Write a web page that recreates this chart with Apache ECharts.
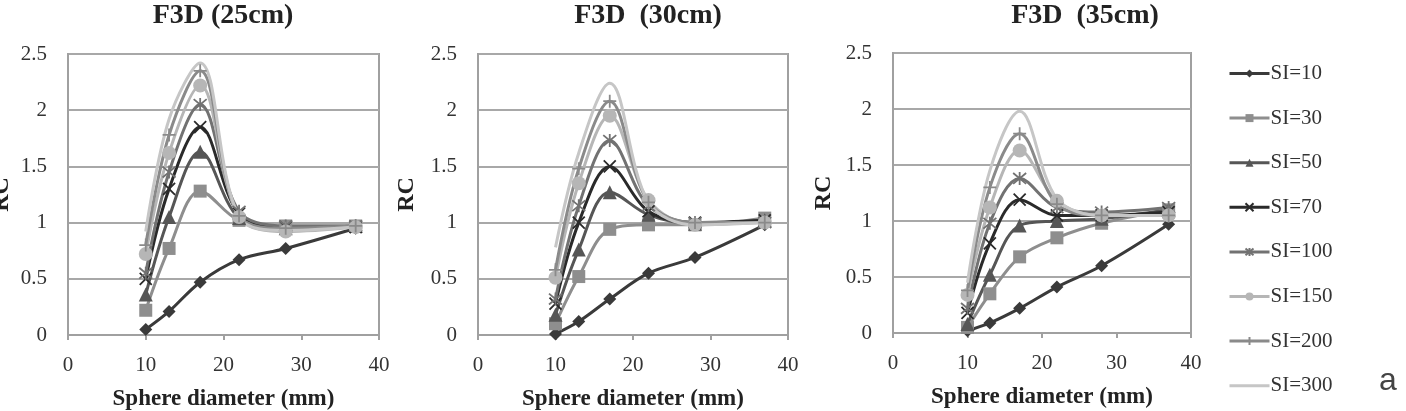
<!DOCTYPE html>
<html>
<head>
<meta charset="utf-8">
<script src="https://cdn.jsdelivr.net/npm/echarts@6/dist/echarts.min.js"></script>
<style>
  html, body { margin: 0; padding: 0; background: #fff; }
  #main { width: 1406px; height: 411px; }
</style>
</head>
<body>
<div id="main"></div>
<script>
// sphere diameters (mm)
const diameters = [10, 13, 17, 22, 28, 37];
const siNames = ['SI=10', 'SI=30', 'SI=50', 'SI=70', 'SI=100', 'SI=150', 'SI=200', 'SI=300'];
const panelTitles = ['F3D (25cm)', 'F3D  (30cm)', 'F3D  (35cm)'];
const xTicks = [0, 10, 20, 30, 40];
const yTicks = [0, 0.5, 1, 1.5, 2, 2.5];

// RC values, one row per SI
const rc25 = [
  [0.05, 0.21, 0.47, 0.67, 0.77, 0.95],
  [0.22, 0.77, 1.28, 1.02, 0.97, 0.97],
  [0.36, 1.05, 1.63, 1.04, 0.95, 0.97],
  [0.50, 1.30, 1.85, 1.08, 0.96, 0.96],
  [0.55, 1.45, 2.05, 1.10, 0.97, 0.97],
  [0.72, 1.62, 2.22, 1.05, 0.92, 0.96],
  [0.80, 1.78, 2.35, 1.06, 0.95, 0.97],
  [0.92, 1.92, 2.42, 1.05, 0.93, 0.96]
];
const rc30 = [
  [0.01, 0.12, 0.32, 0.55, 0.69, 0.98],
  [0.10, 0.52, 0.94, 0.98, 0.98, 1.04],
  [0.18, 0.76, 1.27, 1.07, 0.99, 1.02],
  [0.28, 1.00, 1.50, 1.10, 1.00, 1.02],
  [0.32, 1.15, 1.73, 1.15, 1.00, 1.00],
  [0.51, 1.35, 1.95, 1.20, 0.98, 1.00],
  [0.58, 1.48, 2.08, 1.18, 1.00, 1.00],
  [0.78, 1.62, 2.24, 1.18, 0.98, 1.00]
];
const rc35 = [
  [0.02, 0.09, 0.22, 0.41, 0.60, 0.97],
  [0.05, 0.35, 0.68, 0.85, 0.98, 1.10],
  [0.08, 0.52, 0.96, 1.00, 1.02, 1.10],
  [0.18, 0.80, 1.19, 1.05, 1.05, 1.08],
  [0.22, 0.98, 1.38, 1.12, 1.08, 1.12],
  [0.34, 1.12, 1.63, 1.18, 1.05, 1.05],
  [0.38, 1.30, 1.78, 1.15, 1.05, 1.05],
  [0.45, 1.45, 1.98, 1.20, 1.05, 1.05]
];

// 线条颜色 / 标记
const lineColors = ['#3a3a3a', '#8e8e8e', '#565656', '#2a2a2a', '#727272', '#b6b6b6', '#8a8a8a', '#c6c6c6'];
const symbols = [
  'diamond', 'rect', 'triangle',
  'path://M0,0L10,10M10,0L0,10',
  'path://M0,0L10,10M10,0L0,10M5,-1L5,11',
  'circle',
  'path://M5,0L5,10M0,5L10,5',
  'none'
];
const symbolSizes = [13, 13, 14, 12, 13, 14, 13, 0];

const serif = '"Liberation Serif", "Times New Roman", serif';
const panels = [rc25, rc30, rc35];
const grids = [
  {left: 68, top: 54, width: 311, height: 281},
  {left: 478, top: 54, width: 310, height: 281},
  {left: 893, top: 53, width: 298, height: 280}
];
const nameGaps = [54, 59, 57];
const titleCenters = [218, 643, 1080];

const myChart = echarts.init(document.getElementById('main'));

let series = [];
panels.forEach(function (rows, p) {
  rows.forEach(function (vals, i) {
    const pathSym = symbols[i].indexOf('path://') === 0;
    series.push({
      name: siNames[i],
      type: 'line',
      xAxisIndex: p,
      yAxisIndex: p,
      smooth: 0.35,
      data: diameters.map(function (d, k) { return [d, vals[k]]; }),
      symbol: symbols[i],
      symbolSize: symbolSizes[i],
      showSymbol: symbols[i] !== 'none',
      lineStyle: {color: lineColors[i], width: 3},
      itemStyle: {
        color: lineColors[i],
        borderColor: lineColors[i],
        borderWidth: pathSym ? 1.8 : 0
      },
      emphasis: {disabled: true}
    });
  });
});

// 图例：SI=300 只有线
const legendData = siNames.map(function (n, i) {
  if (symbols[i] === 'none') {
    return {name: n, itemStyle: {opacity: 0}};
  }
  return {name: n};
});

myChart.setOption({
  animation: false,
  backgroundColor: '#fff',
  title: panelTitles.map(function (t, p) {
    return {
      text: t,
      left: titleCenters[p],
      top: -3,
      textAlign: 'center',
      textStyle: {fontFamily: serif, fontWeight: 'bold', fontSize: 28, color: '#222'}
    };
  }).concat([{
    text: 'a',
    left: 1383,
    top: 360,
    textAlign: 'center',
    textStyle: {fontFamily: '"Liberation Sans", Arial, sans-serif', fontWeight: 'normal', fontSize: 32, color: '#444'}
  }]),
  legend: {
    orient: 'vertical',
    left: 1223,
    top: 58,
    itemWidth: 40,
    itemHeight: 10,
    itemGap: 23.6,
    data: legendData,
    lineStyle: {width: 3},
    textStyle: {fontFamily: serif, fontSize: 21, color: '#333', lineHeight: 20, padding: [0, 0, 0, -4]}
  },
  grid: grids.map(function (g) {
    return Object.assign({
      show: true,
      borderColor: '#a0a0a0',
      borderWidth: 2,
      backgroundColor: '#fff',
      containLabel: false,
      outerBoundsMode: 'none'
    }, g);
  }),
  xAxis: grids.map(function (g, p) {
    return {
      gridIndex: p,
      type: 'value',
      min: xTicks[0],
      max: xTicks[xTicks.length - 1],
      interval: 10,
      name: 'Sphere diameter (mm)',
      nameLocation: 'middle',
      nameGap: 53,
      nameTextStyle: {fontFamily: serif, fontWeight: 'bold', fontSize: 23, color: '#222'},
      axisLine: {lineStyle: {color: '#a0a0a0', width: 2}},
      axisTick: {show: true, length: 5, lineStyle: {color: '#a0a0a0', width: 2}},
      axisLabel: {fontFamily: serif, fontSize: 21, color: '#333', margin: 20},
      splitLine: {show: false}
    };
  }),
  yAxis: grids.map(function (g, p) {
    return {
      gridIndex: p,
      type: 'value',
      min: yTicks[0],
      max: yTicks[yTicks.length - 1],
      interval: 0.5,
      name: 'RC',
      nameLocation: 'middle',
      nameGap: nameGaps[p],
      nameRotate: 90,
      nameTextStyle: {fontFamily: serif, fontWeight: 'bold', fontSize: 24, color: '#222'},
      axisLine: {show: true, lineStyle: {color: '#a0a0a0', width: 2}},
      axisTick: {show: false},
      axisLabel: {fontFamily: serif, fontSize: 21, color: '#333', margin: 21},
      splitLine: {show: true, lineStyle: {color: '#a8a8a8', width: 2}}
    };
  }),
  series: series
});

//自适应大小
window.onresize = function () {
  myChart.resize();
};
</script>
</body>
</html>
